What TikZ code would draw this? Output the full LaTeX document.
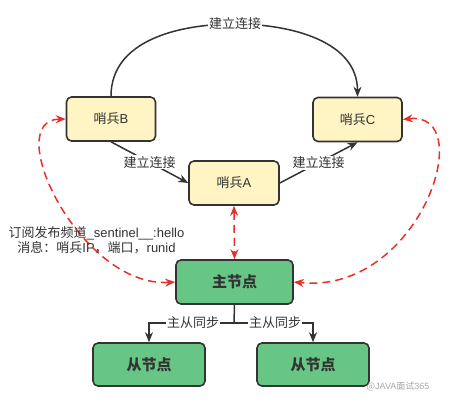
\documentclass[tikz,border=0pt]{standalone}
\usepackage{fontspec}
\setmainfont{Noto Sans CJK SC}
\newfontfamily\latf{Liberation Sans}
\newcommand{\lt}[1]{{\latf #1}}
\usetikzlibrary{arrows.meta}
\definecolor{ybox}{HTML}{FFF4C4}
\definecolor{gbox}{HTML}{67C686}
\definecolor{edge}{HTML}{333333}
\definecolor{txt}{HTML}{333333}
\definecolor{redd}{HTML}{E8302A}
\tikzset{
  ybx/.style={draw=edge, line width=1.6pt, fill=ybox, rounded corners=5pt, minimum width=89pt, minimum height=44pt, font=\fontsize{13}{15}\selectfont, text=txt, inner sep=0pt},
  gbx/.style={draw=edge, line width=1.6pt, fill=gbox, rounded corners=5pt, minimum width=114pt, minimum height=44pt, font=\fontsize{15}{17}\selectfont\bfseries, text=txt, inner sep=0pt},
  conn/.style={draw=edge, line width=1.5pt, -{Stealth[length=10pt,width=8pt]}},
  redconn/.style={draw=redd, line width=1.5pt, dash pattern=on 8pt off 5pt, {Stealth[length=10pt,width=8pt]}-{Stealth[length=10pt,width=8pt]}},
  lbl/.style={fill=white, inner sep=1pt, font=\fontsize{13}{15}\selectfont, text=txt},
}
\begin{document}
\begin{tikzpicture}[x=1pt,y=-1pt]
\useasboundingbox (0,0) rectangle (452,407);
\node[ybx] (B) at (111,119) {哨兵\lt{B}};
\node[ybx] (C) at (357.5,119.5) {哨兵\lt{C}};
\node[ybx, minimum width=90pt] (A) at (234,183) {哨兵\lt{A}};
\node[gbx, minimum width=117pt] (M) at (234.5,282) {主节点};
\node[gbx, minimum width=112pt, minimum height=43pt] (S1) at (149,364.5) {从节点};
\node[gbx, minimum width=112pt, minimum height=43pt] (S2) at (313,364.5) {从节点};
% top arc
\coordinate (top) at (235,24);
\draw[conn] (B.north) to[out=90,in=180] (top) to[out=0,in=90] (C.north);
\node[lbl] at (top) {建立连接};
% B -> A, A -> C
\draw[conn] (B.south) -- node[lbl, pos=0.5] {建立连接} (A.west);
\draw[conn] (A.east) -- node[lbl, pos=0.5] {建立连接} (C.south);
% red dashed
\draw[redconn] (B.west) .. controls (0,120) and (80,288) .. (M.west);
\draw[redconn] (C.east) .. controls (480,110) and (420,295) .. (M.east);
\draw[redconn] (A.south) -- (M.north);
\node[font=\fontsize{13}{15}\selectfont, text=txt, align=center, inner sep=0pt] (sub) at (96.5,240.5) {订阅发布频道\lt{\_sentinel\_\_:hello}\\消息：哨兵\lt{IP}，端口，\lt{runid}};
% master-slave
\coordinate (j) at (234,323);
\draw[draw=edge, line width=1.5pt] (M.south) -- (j);
\draw[conn] (j) -| (S1.north);
\draw[conn] (j) -| (S2.north);
\node[lbl] at (193,323) {主从同步};
\node[lbl] at (275,323) {主从同步};
% watermark
\node[font=\fontsize{9}{10}\selectfont, text=black!35, inner sep=0pt] (wm) at (398,387) {@\lt{JAVA}面试\lt{365}};
\end{tikzpicture}
\end{document}
